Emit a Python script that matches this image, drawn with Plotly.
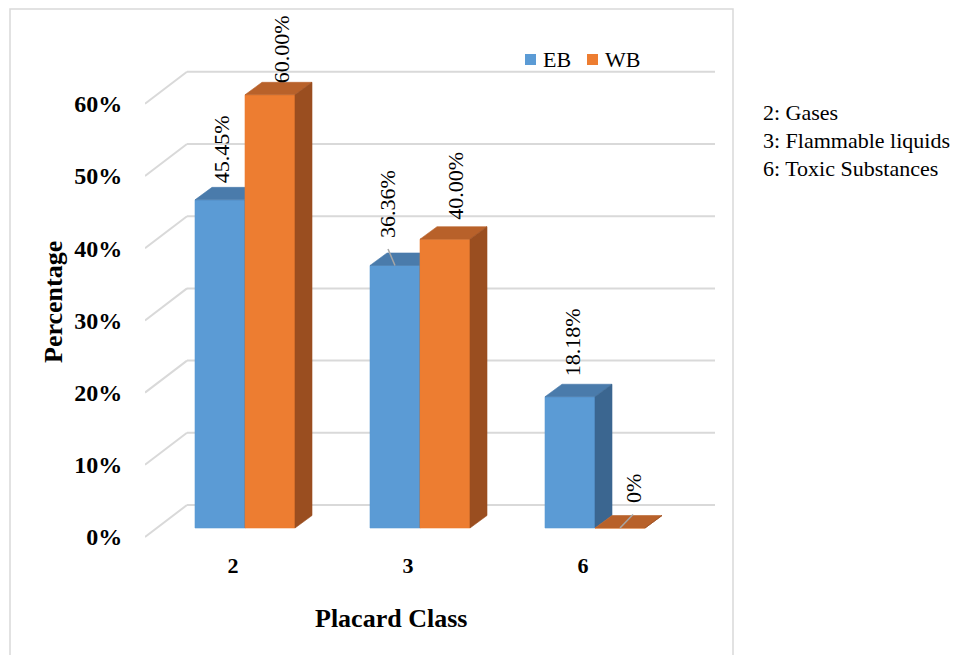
import plotly.graph_objects as go

# ---------------- data ----------------
categories = ["2", "3", "6"]
series_names = ["EB", "WB"]
eb_values = [45.45, 36.36, 18.18]
wb_values = [60.00, 40.00, 0.00]
eb_labels = ["45.45%", "36.36%", "18.18%"]
wb_labels = ["60.00%", "40.00%", "0%"]
y_ticks = [0, 10, 20, 30, 40, 50, 60]
notes = ["2: Gases", "3: Flammable liquids", "6: Toxic Substances"]

# ---------------- style / geometry ----------------
FONT = "Liberation Serif, Times New Roman, serif"
W, H = 973, 655
OFF = 8                                         # page body margin offset
# geometry given in screen pixels, converted to figure pixels
PX_L, PX_R, PX_T, PX_B = 145 - OFF, 715 - OFF, 30 - OFF, 545 - OFF
X0_PX, X_UNIT = 245 - OFF, 175.0
Y0_PX, Y_UNIT = 528 - OFF, 7.22
BAR_W = 50 / X_UNIT
DXB, DYB = 17 / X_UNIT, 12.5 / Y_UNIT           # bar depth
FRONT_DX, FRONT_DY = -12 / X_UNIT, -9 / Y_UNIT  # front edge of floor relative to bar front
BACK_DX, BACK_DY = 30 / X_UNIT, 23 / Y_UNIT     # back wall relative to bar front

xr = [(PX_L - X0_PX) / X_UNIT, (PX_R - X0_PX) / X_UNIT]
yr = [(Y0_PX - PX_B) / Y_UNIT, (Y0_PX - PX_T) / Y_UNIT]

def px_x(sx):
    return (sx - OFF - PX_L) / (PX_R - PX_L)

def px_y(sy):
    return (PX_B - (sy - OFF)) / (PX_B - PX_T)

colors = {
    "EB": {"front": "#5B9BD5", "top": "#4A7BAB", "side": "#3B6690"},
    "WB": {"front": "#ED7D31", "top": "#B8612A", "side": "#9A4E20"},
}
GRID = "#D9D9D9"
# per-label pixel nudges (xshift, yshift) and leader-line flags
label_shift = {"EB": [(1, 2), (-7, 13), (2, 6)], "WB": [(11, -3), (11, 5), (13, 10)]}
leader = {"EB": [False, True, False], "WB": [False, False, True]}

fig = go.Figure()

# ---------------- gridlines (back wall + side diagonals) ----------------
gx, gy = [], []
for t in y_ticks:
    gx += [xr[0], xr[0] + (BACK_DX - FRONT_DX), None]
    gy += [t + FRONT_DY, t + BACK_DY, None]
    gx += [xr[0] + (BACK_DX - FRONT_DX), xr[1], None]
    gy += [t + BACK_DY, t + BACK_DY, None]
fig.add_trace(go.Scatter(x=gx, y=gy, mode="lines", line=dict(color=GRID, width=2),
                         hoverinfo="skip", showlegend=False, cliponaxis=False))

def poly(pts, color, name):
    xs = [p[0] for p in pts] + [pts[0][0]]
    ys = [p[1] for p in pts] + [pts[0][1]]
    fig.add_trace(go.Scatter(x=xs, y=ys, mode="lines", fill="toself", fillcolor=color,
                             line=dict(color=color, width=0.6), hoverinfo="skip",
                             name=name, showlegend=False))

# ---------------- 3D bars (painter's order) ----------------
series = [("EB", eb_values, -1), ("WB", wb_values, 0)]
for i, cat in enumerate(categories):
    for name, vals, off in series:
        v = vals[i]
        x0 = i + off * BAR_W
        x1 = x0 + BAR_W
        c = colors[name]
        poly([(x0, 0), (x1, 0), (x1, v), (x0, v)], c["front"], name)
        poly([(x0, v), (x1, v), (x1 + DXB, v + DYB), (x0 + DXB, v + DYB)], c["top"], name)
        poly([(x1, 0), (x1 + DXB, DYB), (x1 + DXB, v + DYB), (x1, v)], c["side"], name)

# ---------------- data labels ----------------
annotations = []
lx, ly = [], []
for name, vals, off in series:
    labels = eb_labels if name == "EB" else wb_labels
    for i, v in enumerate(vals):
        xc = i + off * BAR_W + BAR_W / 2
        xs, ys = label_shift[name][i]
        annotations.append(dict(x=xc, y=v + DYB, xref="x", yref="y", text=labels[i],
                                textangle=-90, showarrow=False, xanchor="center",
                                yanchor="bottom", xshift=xs, yshift=ys,
                                font=dict(family=FONT, size=22, color="#000000")))
        if leader[name][i]:
            lx += [xc, xc + xs / X_UNIT, None]
            ly += [v, v + DYB + (ys - 9) / Y_UNIT, None]
fig.add_trace(go.Scatter(x=lx, y=ly, mode="lines", line=dict(color="#A6A6A6", width=1.5),
                         hoverinfo="skip", showlegend=False))

# ---------------- axis titles ----------------
annotations.append(dict(x=px_x(391), y=px_y(618), xref="paper", yref="paper",
                        text="<b>Placard Class</b>", showarrow=False,
                        xanchor="center", yanchor="middle",
                        font=dict(family=FONT, size=26, color="#000000")))
annotations.append(dict(x=px_x(54), y=px_y(302), xref="paper", yref="paper",
                        text="<b>Percentage</b>", textangle=-90, showarrow=False,
                        xanchor="center", yanchor="middle",
                        font=dict(family=FONT, size=26, color="#000000")))

# ---------------- side notes ----------------
for k, note in enumerate(notes):
    annotations.append(dict(x=px_x(761), y=px_y(113 + 27.5 * k), xref="paper", yref="paper",
                            text=note, showarrow=False, xanchor="left", yanchor="middle",
                            font=dict(family=FONT, size=22, color="#000000")))

# ---------------- manual legend ----------------
shapes = []
for name, sq_left, txt_left in [("EB", 525, 541), ("WB", 587, 603)]:
    shapes.append(dict(type="rect", xref="paper", yref="paper",
                       x0=px_x(sq_left), x1=px_x(sq_left + 11), y0=px_y(65), y1=px_y(54),
                       fillcolor=colors[name]["front"], line=dict(width=0)))
    annotations.append(dict(x=px_x(txt_left), y=px_y(59.5), xref="paper", yref="paper",
                            text=name, showarrow=False, xanchor="left", yanchor="middle",
                            font=dict(family=FONT, size=22, color="#000000")))

# chart border
shapes.append(dict(type="rect", xref="paper", yref="paper",
                   x0=px_x(10), x1=px_x(733), y0=px_y(700), y1=px_y(9),
                   line=dict(color="#D9D9D9", width=1.5), fillcolor="rgba(0,0,0,0)",
                   layer="below"))

fig.update_layout(
    width=W, height=H, autosize=False,
    margin=dict(l=PX_L, r=W - PX_R, t=PX_T, b=H - PX_B, pad=0),
    paper_bgcolor="white", plot_bgcolor="white",
    showlegend=False,
    annotations=annotations, shapes=shapes,
    xaxis=dict(range=xr, showgrid=False, zeroline=False, showline=False,
               tickmode="array", tickvals=[i + FRONT_DX for i in range(len(categories))],
               ticktext=categories, ticks="outside", ticklen=0.1, tickcolor="rgba(0,0,0,0)",
               tickfont=dict(family=FONT, size=22, color="#000000", weight="bold"),
               fixedrange=True),
    yaxis=dict(range=yr, showgrid=False, zeroline=False, showline=False,
               tickmode="array", tickvals=[t + FRONT_DY for t in y_ticks],
               ticktext=[f"{t}%" for t in y_ticks], ticks="outside", ticklen=17,
               tickcolor="rgba(0,0,0,0)",
               tickfont=dict(family=FONT, size=24, color="#000000", weight="bold"),
               fixedrange=True),
)

fig.write_html("out.html")
